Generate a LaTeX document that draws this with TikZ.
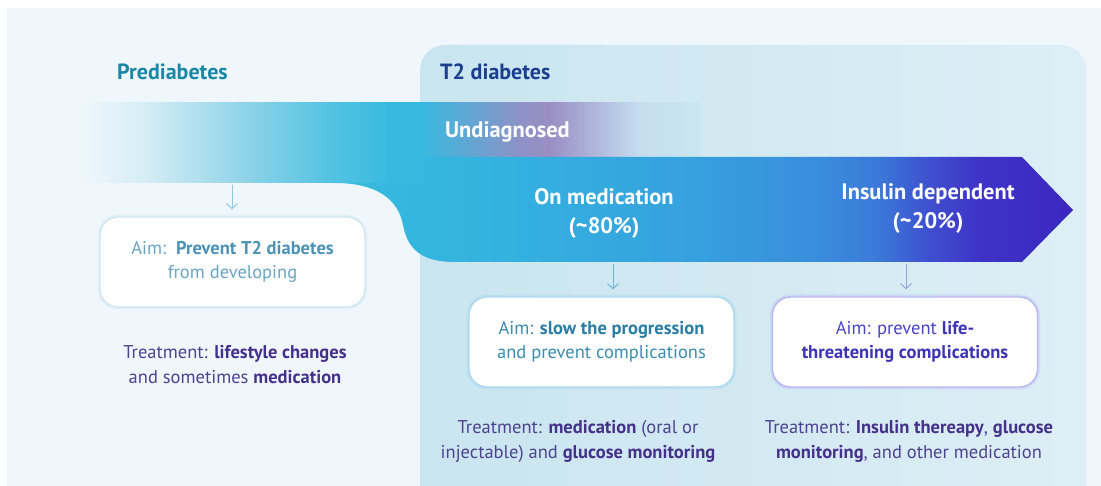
\documentclass[tikz,border=0pt]{standalone}
\usepackage{fontspec}
\setmainfont{PT Sans}
\usetikzlibrary{arrows.meta}

% palette
\definecolor{bgc}{HTML}{F0F7FC}
\definecolor{panelL}{HTML}{C9E5EF}
\definecolor{panelR}{HTML}{DDEEF6}
\definecolor{cyanA}{HTML}{37BADF}
\definecolor{preH}{HTML}{1B87A6}
\definecolor{t2H}{HTML}{1A3F8F}
\definecolor{aimA}{HTML}{6BA5C2}
\definecolor{aimAb}{HTML}{4C93B7}
\definecolor{aimB}{HTML}{3A8DB0}
\definecolor{aimBb}{HTML}{2A7DA3}
\definecolor{aimC}{HTML}{4B45C4}
\definecolor{aimCb}{HTML}{3E34B6}
\definecolor{treat}{HTML}{4E4290}
\definecolor{treatb}{HTML}{45318A}
\definecolor{edgeA}{HTML}{CFE6F0}
\definecolor{edgeB}{HTML}{ABD8EE}
\definecolor{edgeC}{HTML}{BAB7F0}
\definecolor{linkA}{HTML}{92C7E2}
\definecolor{linkB}{HTML}{6FB3DF}
\definecolor{linkC}{HTML}{95A6DA}
% gradient stops
\definecolor{preA}{HTML}{D6EDF5}
\definecolor{preB}{HTML}{8ED3E8}
\definecolor{preC}{HTML}{55C3E2}
\definecolor{undA}{HTML}{62A6D3}
\definecolor{undB}{HTML}{8E92C6}
\definecolor{undC}{HTML}{9A8EC3}
\definecolor{undD}{HTML}{ADB3DA}
\definecolor{undE}{HTML}{C6DDEE}
\definecolor{proA}{HTML}{33B2DF}
\definecolor{proB}{HTML}{36A0DE}
\definecolor{proC}{HTML}{3A8DDC}
\definecolor{proD}{HTML}{3B78D8}
\definecolor{proE}{HTML}{3F4FCF}
\definecolor{proF}{HTML}{3E33C6}
\definecolor{proG}{HTML}{3B27C1}

% fade-in of the prediabetes band
\pgfdeclarehorizontalshading{prefade}{100bp}{%
  color(0bp)=(bgc); color(25bp)=(bgc);
  color(34.6bp)=(preA); color(49.3bp)=(preB);
  color(61bp)=(preC); color(69.9bp)=(cyanA); color(100bp)=(cyanA)}
% undiagnosed strip
\pgfdeclarehorizontalshading{undiag}{100bp}{%
  color(0bp)=(cyanA); color(25bp)=(cyanA);
  color(33.9bp)=(undA); color(42.9bp)=(undB);
  color(48.2bp)=(undC); color(55.4bp)=(undD);
  color(64.3bp)=(undE); color(73.2bp)=(panelL); color(100bp)=(panelL)}
% main progression arrow
\pgfdeclarehorizontalshading{progress}{100bp}{%
  color(0bp)=(cyanA); color(25bp)=(cyanA);
  color(36.2bp)=(proA); color(49.7bp)=(proB);
  color(57.9bp)=(proC); color(61.9bp)=(proD);
  color(65.3bp)=(proE); color(68.7bp)=(proF);
  color(75bp)=(proG); color(100bp)=(proG)}

\newcommand\txtbody{\fontsize{18.5}{24}\selectfont}
\newcommand\txttreat{\fontsize{18.5}{25}\selectfont}
\newcommand\txthead{\fontsize{22}{26}\selectfont\bfseries}
\newcommand\txtband{\fontsize{22.4}{29}\selectfont\bfseries}

\begin{document}
\begin{tikzpicture}[x=1pt,y=-1pt,
  aimbox/.style={rounded corners=18pt, fill=white, line width=1.4pt,
    minimum width=265pt, minimum height=90pt, align=center, font=\txtbody,
    inner sep=0pt},
  glow/.style={preaction={draw=#1, line width=5pt, draw opacity=0.35}},
  treatment/.style={align=center, font=\txttreat, text=treat, inner sep=0pt},
  bandlabel/.style={align=center, font=\txtband, text=white, inner sep=0pt},
  heading/.style={anchor=west, font=\txthead, inner sep=0pt},
  link/.style={draw=#1, line width=1pt,
    -{Straight Barb[length=5pt,width=11pt]}, shorten >=7pt}]

\useasboundingbox (0,0) rectangle (1101,486);
\clip (0,0) rectangle (1101,486);
\fill[white] (0,0) rectangle (1101,486);
\fill[bgc] (7,8) rectangle (1101,486);

% T2 diabetes panel
\shade[left color=panelL, right color=panelR, rounded corners=25pt]
  (420,45) rectangle (1086,540);

% prediabetes band and undiagnosed strip
\shade[shading=prefade] (78,103) rectangle (425,183);
\shade[shading=undiag] (420,103) rectangle (700,158);

% progression arrow with its curved join to the band
\shade[shading=progress]
  (335,183) .. controls (375,183) and (398,198) .. (403,225)
  .. controls (408,252) and (425,262) .. (455,262)
  -- (1022,262) -- (1073,210) -- (1022,157) -- (424,157) -- (424,183) -- cycle;

% headings
\node[heading, text=preH] (hpre) at (117,72) {Prediabetes};
\node[heading, text=t2H] (ht2) at (440,72) {T2 diabetes};

% band labels
\node[bandlabel, anchor=west] (lund) at (445,132) {Undiagnosed};
\node[bandlabel] (lmed) at (604,213) {On medication\\(\textasciitilde80\%)};
\node[bandlabel] (lins) at (928,209) {Insulin dependent\\(\textasciitilde20\%)};

% aim boxes
\node[aimbox, draw=edgeA, glow=edgeA, text=aimA] (box1) at (232.5,262)
  {Aim:\ \ \textbf{\color{aimAb}Prevent T2 diabetes}\\from developing};
\node[aimbox, draw=edgeB, glow=edgeB, text=aimB] (box2) at (601.5,342)
  {Aim: \textbf{\color{aimBb}slow the progression}\\and prevent complications};
\node[aimbox, draw=edgeC, glow=edgeC, text=aimC] (box3) at (905,342)
  {Aim: prevent \textbf{\color{aimCb}life-}\\\textbf{\color{aimCb}threatening complications}};

% connectors from the bands down to the boxes
\coordinate (s1) at (232,185);
\coordinate (s2) at (613,264);
\coordinate (s3) at (906,264);
\draw[link=linkA] (s1) -- (s1 |- box1.north);
\draw[link=linkB] (s2) -- (s2 |- box2.north);
\draw[link=linkC] (s3) -- (s3 |- box3.north);

% treatments
\node[treatment] (t1) at (235,365)
  {Treatment: \textbf{\color{treatb}lifestyle changes}\\and sometimes \textbf{\color{treatb}medication}};
\node[treatment] (t2) at (578,441)
  {Treatment: \textbf{\color{treatb}medication} (oral or\\injectable) and \textbf{\color{treatb}glucose monitoring}};
\node[treatment] (t3) at (909,441)
  {Treatment: \textbf{\color{treatb}Insulin thereapy}, \textbf{\color{treatb}glucose}\\\textbf{\color{treatb}monitoring}, and other medication};
\end{tikzpicture}
\end{document}
